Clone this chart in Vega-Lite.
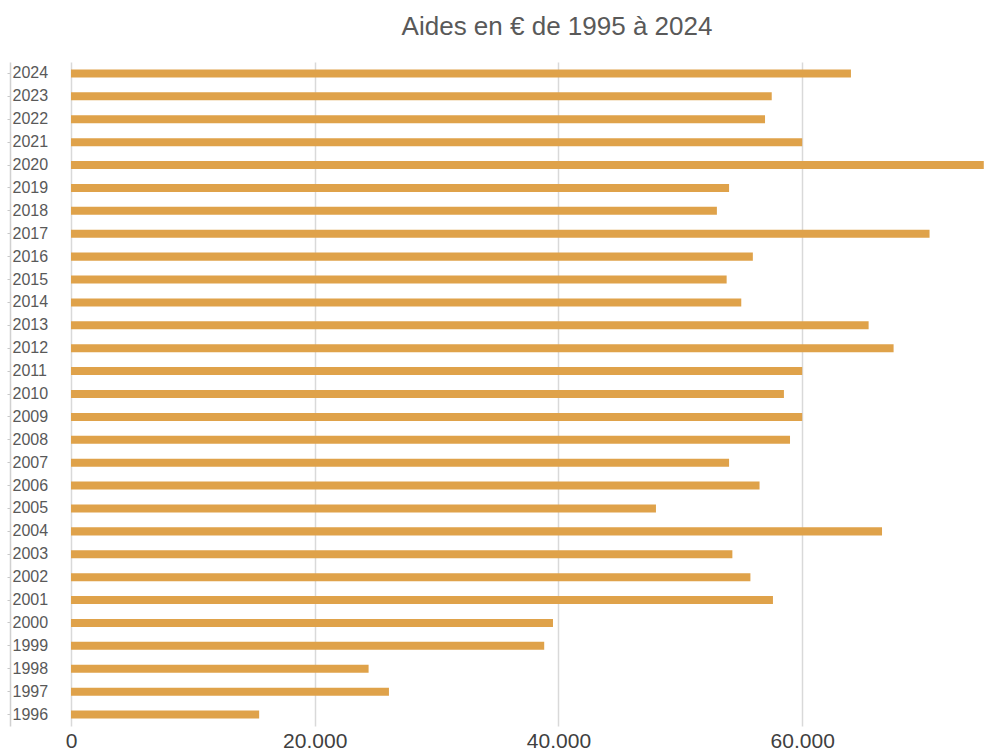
{
  "$schema": "https://vega.github.io/schema/vega-lite/v6.json",
  "autosize": "none",
  "width": 914,
  "height": 664,
  "padding": {"left": 71, "top": 62, "right": 17, "bottom": 29},
  "background": "white",
  "config": {
    "view": {"stroke": null},
    "font": "Liberation Sans, sans-serif"
  },
  "title": {
    "text": "Aides en € de 1995 à 2024",
    "anchor": "middle",
    "dx": 29,
    "offset": 22,
    "fontSize": 26,
    "fontWeight": "normal",
    "color": "#595959",
    "font": "Liberation Sans, sans-serif"
  },
  "data": {
    "values": [
      {"annee": "2024", "aides": 64000},
      {"annee": "2023", "aides": 57500},
      {"annee": "2022", "aides": 56950},
      {"annee": "2021", "aides": 60000},
      {"annee": "2020", "aides": 74900},
      {"annee": "2019", "aides": 54000},
      {"annee": "2018", "aides": 53000},
      {"annee": "2017", "aides": 70450},
      {"annee": "2016", "aides": 55950},
      {"annee": "2015", "aides": 53800},
      {"annee": "2014", "aides": 55000},
      {"annee": "2013", "aides": 65450},
      {"annee": "2012", "aides": 67500},
      {"annee": "2011", "aides": 60000},
      {"annee": "2010", "aides": 58500},
      {"annee": "2009", "aides": 60000},
      {"annee": "2008", "aides": 59000},
      {"annee": "2007", "aides": 54000},
      {"annee": "2006", "aides": 56500},
      {"annee": "2005", "aides": 48000},
      {"annee": "2004", "aides": 66550},
      {"annee": "2003", "aides": 54270},
      {"annee": "2002", "aides": 55750},
      {"annee": "2001", "aides": 57600},
      {"annee": "2000", "aides": 39550},
      {"annee": "1999", "aides": 38830},
      {"annee": "1998", "aides": 24420},
      {"annee": "1997", "aides": 26090},
      {"annee": "1996", "aides": 15440}
    ]
  },
  "mark": {"type": "bar", "color": "#DFA24A"},
  "encoding": {
    "y": {
      "field": "annee",
      "type": "ordinal",
      "sort": "descending",
      "scale": {"paddingInner": 0.65, "paddingOuter": 0.325},
      "axis": {
        "title": null,
        "offset": 61,
        "domain": true,
        "domainColor": "#d0d0d0",
        "domainWidth": 1.5,
        "ticks": true,
        "tickSize": 3,
        "tickColor": "#c8c8c8",
        "labelAlign": "left",
        "labelPadding": -5,
        "labelFontSize": 16,
        "labelColor": "#595959"
      }
    },
    "x": {
      "field": "aides",
      "type": "quantitative",
      "scale": {"domain": [0, 75000], "nice": false},
      "axis": {
        "title": null,
        "values": [0, 20000, 40000, 60000],
        "labelExpr": "replace(format(datum.value, ','), ',', '.')",
        "labelFlush": false,
        "domain": false,
        "ticks": false,
        "grid": true,
        "gridColor": "#d9d9d9",
        "gridWidth": 1.5,
        "labelPadding": 4,
        "labelFontSize": 21,
        "labelColor": "#404040"
      }
    }
  }
}
